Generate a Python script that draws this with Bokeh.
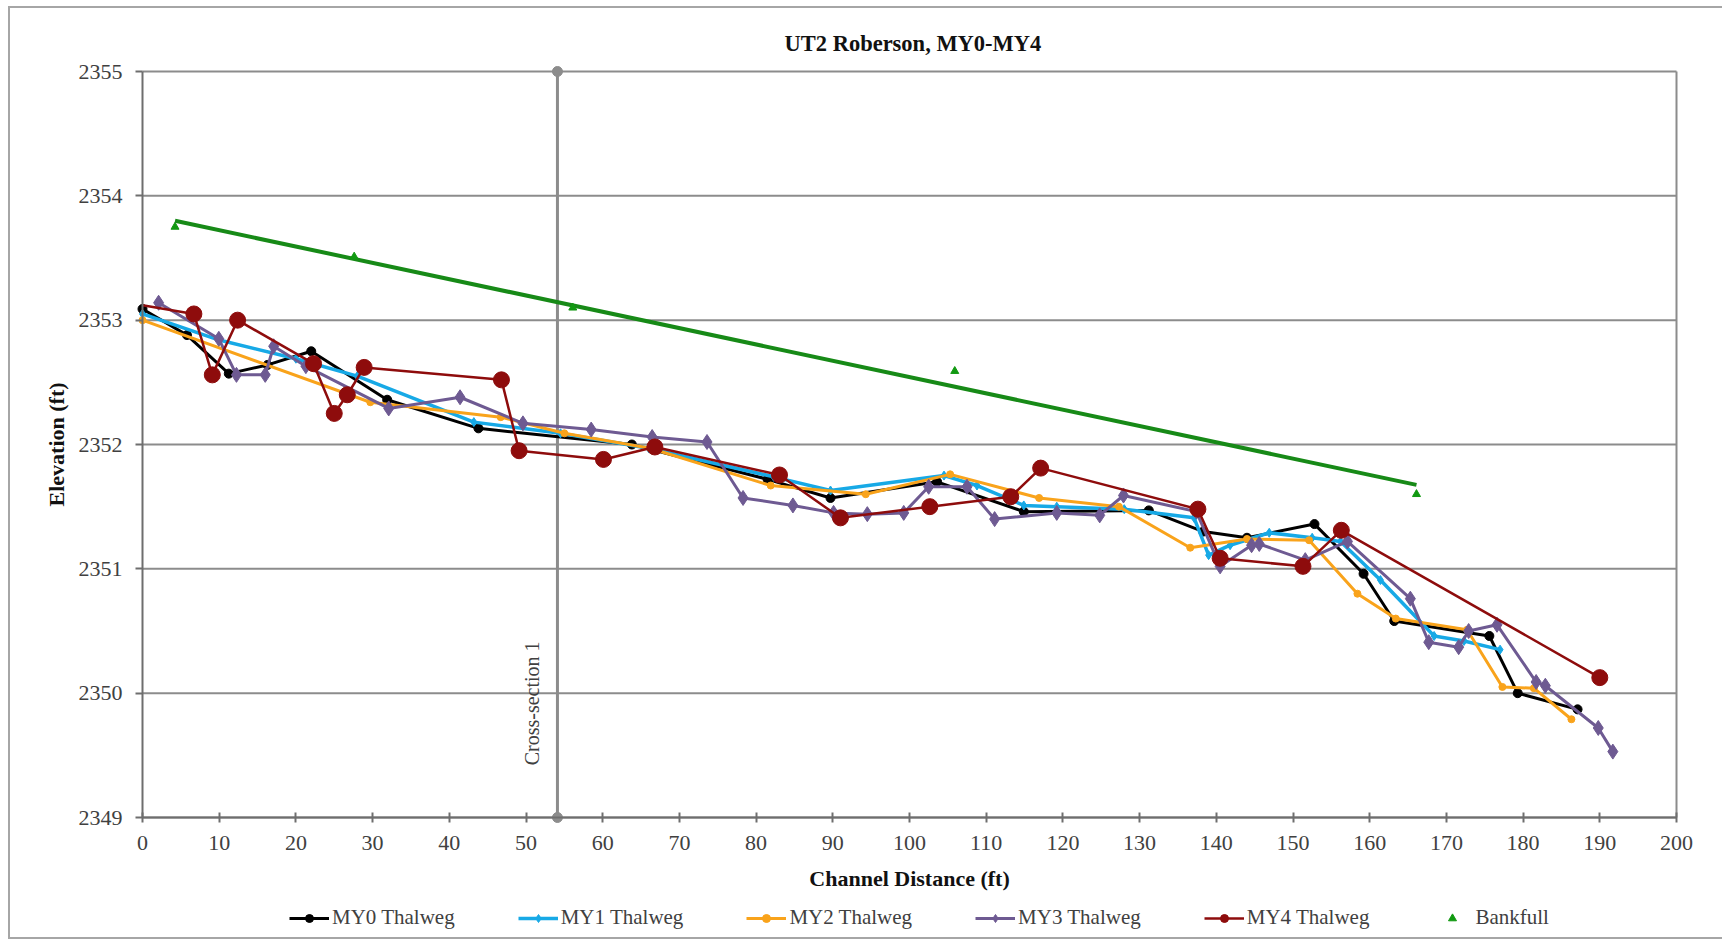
import numpy as np
from bokeh.plotting import figure
from bokeh.models import Range1d, FixedTicker, Legend, LegendItem
from bokeh.core.properties import value
from bokeh.embed import file_html
from bokeh.resources import INLINE

# ---------------- data ----------------
my0_x = [0, 5.8, 11.25, 16.3, 22.0, 31.9, 43.8, 63.8, 81.5, 89.7, 103.6, 114.9, 131.2, 138.3, 144.0, 152.8, 159.2, 163.2, 175.6, 179.3, 187.1]
my0_y = [2353.09, 2352.88, 2352.57, 2352.64, 2352.75, 2352.36, 2352.13, 2352.00, 2351.72, 2351.57, 2351.70, 2351.46, 2351.47, 2351.30, 2351.25, 2351.36, 2350.96, 2350.58, 2350.46, 2350.00, 2349.87]

my1_x = [0, 10, 20, 28, 43.2, 54.5, 66, 82.3, 89.7, 104.5, 108.8, 114.9, 119.2, 128, 137.1, 139.0, 141.8, 146.9, 152.5, 156.2, 161.4, 168.4, 172.3, 177.0]
my1_y = [2353.05, 2352.84, 2352.69, 2352.55, 2352.18, 2352.09, 2351.97, 2351.74, 2351.63, 2351.75, 2351.67, 2351.51, 2351.50, 2351.48, 2351.41, 2351.11, 2351.19, 2351.29, 2351.25, 2351.22, 2350.91, 2350.46, 2350.42, 2350.35]

my2_x = [0, 29.7, 46.7, 55.0, 66.2, 81.9, 94.3, 105.3, 116.9, 127.3, 136.6, 144.0, 152.1, 158.4, 163.4, 172.7, 177.3, 181.4, 186.3]
my2_y = [2353.00, 2352.34, 2352.22, 2352.09, 2351.97, 2351.67, 2351.60, 2351.76, 2351.57, 2351.50, 2351.17, 2351.24, 2351.23, 2350.80, 2350.60, 2350.51, 2350.05, 2350.04, 2349.79]

my3_x = [2.1, 9.95, 12.25, 16.0, 17.1, 21.3, 32.1, 41.4, 49.6, 58.5, 66.45, 73.6, 78.3, 84.8, 90.1, 94.5, 99.25, 102.5, 107.5, 111.1, 119.2, 124.8, 127.9, 137.4, 140.5, 144.6, 145.6, 151.6, 157.1, 165.3, 167.7, 171.6, 172.9, 176.6, 181.7, 182.9, 189.8, 191.7]
my3_y = [2353.14, 2352.85, 2352.56, 2352.56, 2352.79, 2352.63, 2352.29, 2352.38, 2352.17, 2352.12, 2352.06, 2352.02, 2351.57, 2351.51, 2351.45, 2351.44, 2351.45, 2351.66, 2351.66, 2351.40, 2351.45, 2351.43, 2351.59, 2351.46, 2351.02, 2351.19, 2351.20, 2351.07, 2351.22, 2350.76, 2350.41, 2350.37, 2350.50, 2350.55, 2350.09, 2350.06, 2349.72, 2349.53]

my4_x = [0, 6.7, 9.1, 12.4, 22.3, 25.0, 26.7, 28.9, 46.8, 49.1, 60.1, 66.8, 83.05, 91.0, 102.65, 113.2, 117.1, 137.6, 140.5, 151.3, 156.3, 190.0]
my4_y = [2353.12, 2353.05, 2352.56, 2353.00, 2352.65, 2352.25, 2352.40, 2352.62, 2352.52, 2351.95, 2351.88, 2351.98, 2351.755, 2351.41, 2351.50, 2351.58, 2351.81, 2351.48, 2351.085, 2351.02, 2351.31, 2350.125]

bank_x = [4.24, 27.6, 56.1, 105.9, 166.1]
bank_y = [2353.75, 2353.51, 2353.10, 2352.59, 2351.60]

xsec_x = 54.1
xsec_label = "Cross-section 1"
y_ticks = [2349, 2350, 2351, 2352, 2353, 2354, 2355]
x_ticks = list(range(0, 201, 10))

SERIF = "Liberation Serif"
GRID = "#8C8C8C"
AXIS = "#6E6E6E"

# ---------------- layout geometry (pixels) ----------------
PLOT_W, PLOT_H = 1534, 746                 # size of the 0..200 x 2349..2355 area
PAD_L, PAD_R, PAD_T, PAD_B = 102, 24, 15, 115  # frame room around it (axes, legend)
px_x = PLOT_W / (x_ticks[-1] - x_ticks[0])
px_y = PLOT_H / (y_ticks[-1] - y_ticks[0])

p = figure(frame_width=PLOT_W + PAD_L + PAD_R, frame_height=PLOT_H + PAD_T + PAD_B,
           x_range=Range1d(x_ticks[0] - PAD_L / px_x, x_ticks[-1] + PAD_R / px_x),
           y_range=Range1d(y_ticks[0] - PAD_B / px_y, y_ticks[-1] + PAD_T / px_y),
           min_border_left=30, min_border_top=48, min_border_right=22, min_border_bottom=5,
           output_backend="svg", toolbar_location=None,
           title="UT2 Roberson, MY0-MY4")

# outer chart border (left, top, bottom) drawn with CSS on the figure element
p.styles = {"margin-left": "8px", "margin-top": "6px",
            "border-left": "2px solid #A6A6A6",
            "border-top": "2px solid #A6A6A6",
            "border-bottom": "2px solid #A6A6A6"}

p.title.align = "left"
p.title.offset = 744
p.title.text_font = SERIF
p.title.text_font_size = "22.5px"
p.title.text_font_style = "bold"
p.title.text_color = "#111111"
p.title.standoff = 1

p.outline_line_color = None
p.xgrid.visible = False
p.ygrid.visible = False

# horizontal gridlines (0..200) and right-hand border of the plot area
p.segment(x0=x_ticks[0], x1=x_ticks[-1], y0=y_ticks, y1=y_ticks, line_color=GRID, line_width=2)
p.segment(x0=[x_ticks[-1]], x1=[x_ticks[-1]], y0=[y_ticks[0]], y1=[y_ticks[-1]],
          line_color=GRID, line_width=2)

p.yaxis.ticker = FixedTicker(ticks=y_ticks)
p.xaxis.ticker = FixedTicker(ticks=x_ticks)
for ax in (p.xaxis[0], p.yaxis[0]):
    ax.axis_line_color = AXIS
    ax.axis_line_width = 2
    ax.major_tick_line_color = AXIS
    ax.major_tick_line_width = 2
    ax.minor_tick_line_color = None
    ax.major_label_text_font = SERIF
    ax.major_label_text_font_size = "22px"
    ax.major_label_text_color = "#404040"
    ax.axis_label_text_font = SERIF
    ax.axis_label_text_font_size = "22px"
    ax.axis_label_text_font_style = "bold"
    ax.axis_label_text_color = "#111111"

p.xaxis.axis_label = "Channel Distance (ft)"
p.xaxis.fixed_location = y_ticks[0]
p.xaxis.bounds = (x_ticks[0], x_ticks[-1])
p.xaxis.major_tick_in = 5
p.xaxis.major_tick_out = 5
p.xaxis.major_label_standoff = 13
p.xaxis.axis_label_standoff = 13

p.yaxis.axis_label = "Elevation (ft)"
p.yaxis.fixed_location = x_ticks[0]
p.yaxis.bounds = (y_ticks[0], y_ticks[-1])
p.yaxis.major_tick_in = 0
p.yaxis.major_tick_out = 7
p.yaxis.major_label_standoff = 13
p.yaxis.axis_label_standoff = 7

# cross-section marker line
p.line([xsec_x, xsec_x], [y_ticks[0], y_ticks[-1]], line_color=GRID, line_width=3)
p.scatter([xsec_x, xsec_x], [y_ticks[0], y_ticks[-1]], marker="circle", size=10,
          fill_color=GRID, line_color=GRID)
p.text(x=[xsec_x], y=[2349.42], text=[xsec_label], angle=np.pi / 2,
       text_align="left", text_baseline="bottom", x_offset=-14,
       text_font=value(SERIF), text_font_size="20px", text_color="#404040")

# bankfull trend line (linear fit of bankfull points)
slope, icpt = np.polyfit(bank_x, bank_y, 1)
tx = [min(bank_x), max(bank_x)]
p.line(tx, [slope * v + icpt for v in tx], line_color="#178A17", line_width=4)

items = []
l0 = p.line(my0_x, my0_y, line_color="black", line_width=3)
s0 = p.scatter(my0_x, my0_y, marker="circle", size=9, fill_color="black", line_color="black")
items.append(LegendItem(label="MY0 Thalweg", renderers=[l0, s0]))

l1 = p.line(my1_x, my1_y, line_color="#17A9E6", line_width=3.5)
s1 = p.scatter(my1_x, my1_y, marker="diamond", size=9, fill_color="#17A9E6", line_color="#17A9E6")
items.append(LegendItem(label="MY1 Thalweg", renderers=[l1, s1]))

l2 = p.line(my2_x, my2_y, line_color="#F9A31B", line_width=3)
s2 = p.scatter(my2_x, my2_y, marker="circle", size=7, fill_color="#F9A31B", line_color="#F9A31B")
items.append(LegendItem(label="MY2 Thalweg", renderers=[l2, s2]))

l3 = p.line(my3_x, my3_y, line_color="#6E5A92", line_width=3)
s3 = p.scatter(my3_x, my3_y, marker="diamond", size=15, fill_color="#6E5A92", line_color="#6E5A92")
items.append(LegendItem(label="MY3 Thalweg", renderers=[l3, s3]))

l4 = p.line(my4_x, my4_y, line_color="#8E0C0C", line_width=2.5)
s4 = p.scatter(my4_x[1:], my4_y[1:], marker="circle", size=16, fill_color="#8E0C0C", line_color="#8E0C0C")
items.append(LegendItem(label="MY4 Thalweg", renderers=[l4, s4]))

sb = p.scatter(bank_x, bank_y, marker="triangle", size=8, fill_color="#119911", line_color="#119911")
items.append(LegendItem(label="Bankfull", renderers=[sb]))

legend = Legend(items=items, orientation="horizontal", location=(PAD_L + 147, 2),
                glyph_width=40, glyph_height=20, label_standoff=3, spacing=63,
                padding=0, margin=0, border_line_color=None, background_fill_alpha=0,
                label_text_font=SERIF, label_text_font_size="21px", label_text_color="#404040")
p.add_layout(legend)

open("out.html", "w").write(file_html(p, INLINE))
